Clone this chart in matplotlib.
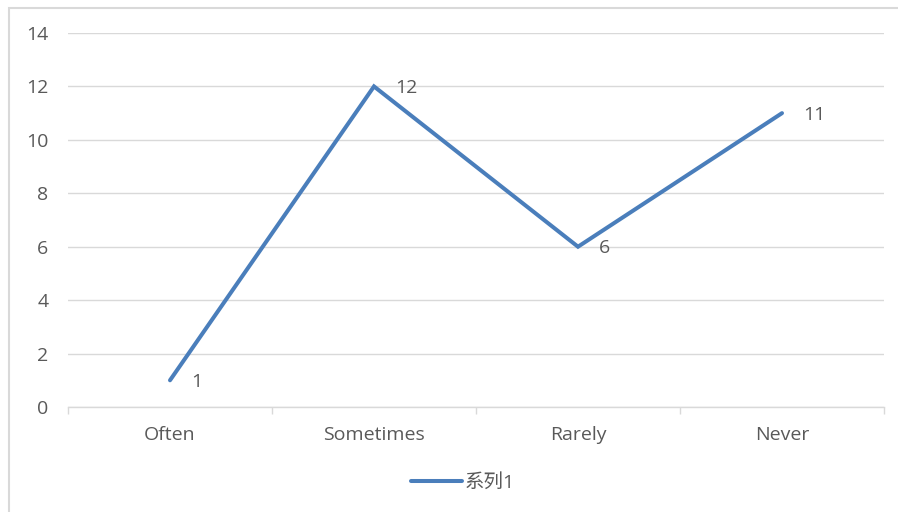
import matplotlib
matplotlib.use("Agg")
import matplotlib.pyplot as plt
from matplotlib.patches import Rectangle
from matplotlib.lines import Line2D

categories = ["Often", "Sometimes", "Rarely", "Never"]
values = [1, 12, 6, 11]
series_name = "系列1"
y_ticks = [0, 2, 4, 6, 8, 10, 12, 14]

plt.rcParams['font.family'] = ['Open Sans', 'Noto Sans CJK SC', 'DejaVu Sans']

text_color = "#595959"
grid_color = "#d9d9d9"
line_color = "#4a7ebb"
fs = 14

fig = plt.figure(figsize=(8.98, 5.12), dpi=100)
ax = fig.add_axes([68 / 898, 1 - 407 / 512, (884 - 68) / 898, (407 - 33) / 512])

x = list(range(len(categories)))
ax.plot(x, values, color=line_color, linewidth=2.9, solid_capstyle='round',
        solid_joinstyle='miter', zorder=3)

for xi, v in zip(x, values):
    ax.annotate(str(v), (xi, v), xytext=(15, -1), textcoords='offset points',
                ha='left', va='center', fontsize=fs, color=text_color)

ax.set_xlim(-0.5, len(categories) - 0.5)
ax.set_ylim(0, 14)
ax.set_yticks(y_ticks)
ax.set_yticklabels([str(t) for t in y_ticks])
ax.set_xticks(x)
ax.set_xticklabels(categories)
ax.set_xticks([i - 0.5 for i in range(len(categories) + 1)], minor=True)

ax.grid(axis='y', color=grid_color, linewidth=1.0)
ax.set_axisbelow(True)
for side in ['top', 'right', 'left']:
    ax.spines[side].set_visible(False)
ax.spines['bottom'].set_color(grid_color)
ax.spines['bottom'].set_linewidth(1.0)

ax.tick_params(axis='y', length=0, pad=14, labelsize=fs, labelcolor=text_color)
ax.tick_params(axis='x', which='major', length=0, pad=14, labelsize=fs, labelcolor=text_color)
ax.tick_params(axis='x', which='minor', length=5, width=1.0, color=grid_color)

handle = Line2D([], [], color=line_color, linewidth=2.9, solid_capstyle='round')
fig.legend([handle], [series_name], loc='center', bbox_to_anchor=(463 / 898, 1 - 483 / 512),
           frameon=False, fontsize=fs, labelcolor=text_color, handlelength=2.6,
           handletextpad=0.15)

fig.patches.append(Rectangle((9 / 898, -0.1), 1.0, 1 - 8 / 512 + 0.1,
                             transform=fig.transFigure, fill=False,
                             edgecolor=grid_color, linewidth=1.5))

fig.savefig("out.png", dpi=100)
